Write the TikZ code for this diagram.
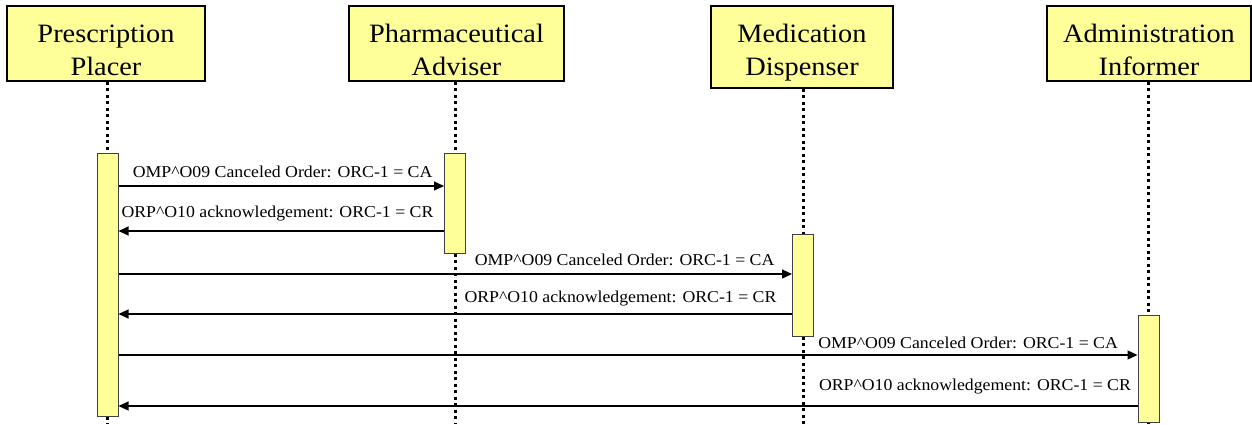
\documentclass[tikz,border=0pt]{standalone}
\usepackage{fontspec}
\setmainfont{Liberation Serif}[FakeStretch=1.07]
\usetikzlibrary{positioning,arrows.meta,calc}
\definecolor{barfill}{HTML}{FFFF99}
\definecolor{baredge}{HTML}{404040}

\begin{document}
\begin{tikzpicture}[x=1pt,y=-1pt,
  actor/.style={draw=black,line width=1.4pt,fill=barfill,align=center,inner sep=0pt,
    minimum height=75pt,text height=63pt,text depth=0pt,font=\fontsize{26.5}{33}\selectfont},
  actbar/.style={draw=baredge,line width=1pt,fill=barfill,minimum width=21pt,inner sep=0pt},
  lifeline/.style={line width=3pt,dash pattern=on 3pt off 3.5pt},
  call/.style={line width=1.2pt,-{Triangle[length=10pt,width=9pt]}},
  msglabel/.style={anchor=base east,inner sep=0pt,font=\fontsize{16.6}{20}\selectfont}]
  \useasboundingbox (0,0) rectangle (1252,424);
  % actors
  \node[actor,minimum width=198pt] (pp) at (106,43.5) {Prescription\\Placer};
  \node[actor,minimum width=215pt] (pa) at (456.5,43.5) {Pharmaceutical\\Adviser};
  \node[actor,minimum width=182pt,minimum height=82pt,text height=56pt] (md) at (802,47) {Medication\\Dispenser};
  \node[actor,minimum width=204pt] (ai) at (1149,43.5) {Administration\\Informer};
  % activation bars
  \node[actbar,minimum height=263pt] (ppact) at (107.5,284.5) {};
  \node[actbar,minimum height=100pt] (paact) at (455,203) {};
  \node[actbar,minimum height=102pt] (mdact) at (803,285) {};
  \node[actbar,minimum height=107pt] (aiact) at (1148.5,368.5) {};
  \coordinate (bottom) at (0,424);
  % lifelines
  \foreach \a in {pp,pa,md,ai}{
    \draw[lifeline] (\a.south -| \a act) -- (\a act.north);
    \draw[lifeline] (\a act.south) -- (\a act |- bottom);
  }
  % message rows
  \foreach \n/\y in {1/186,2/231,3/274,4/314,5/355,6/406}
    \coordinate (r\n) at (0,\y);
  % messages
  \draw[call] (ppact.east |- r1) -- (paact.west |- r1)
    node[msglabel,xshift=-11pt,yshift=9pt] {OMP\textasciicircum O09 Canceled Order: ORC-1 = CA};
  \draw[call] (paact.west |- r2)
    node[msglabel,xshift=-10pt,yshift=14pt] {ORP\textasciicircum O10 acknowledgement: ORC-1 = CR}
    -- (ppact.east |- r2);
  \draw[call] (ppact.east |- r3) -- (mdact.west |- r3)
    node[msglabel,xshift=-17pt,yshift=9pt] {OMP\textasciicircum O09 Canceled Order: ORC-1 = CA};
  \draw[call] (mdact.west |- r4)
    node[msglabel,xshift=-15pt,yshift=12pt] {ORP\textasciicircum O10 acknowledgement: ORC-1 = CR}
    -- (ppact.east |- r4);
  \draw[call] (ppact.east |- r5) -- (aiact.west |- r5)
    node[msglabel,xshift=-19pt,yshift=7pt] {OMP\textasciicircum O09 Canceled Order: ORC-1 = CA};
  \draw[call] (aiact.west |- r6)
    node[msglabel,xshift=-6pt,yshift=16pt] {ORP\textasciicircum O10 acknowledgement: ORC-1 = CR}
    -- (ppact.east |- r6);
\end{tikzpicture}
\end{document}
